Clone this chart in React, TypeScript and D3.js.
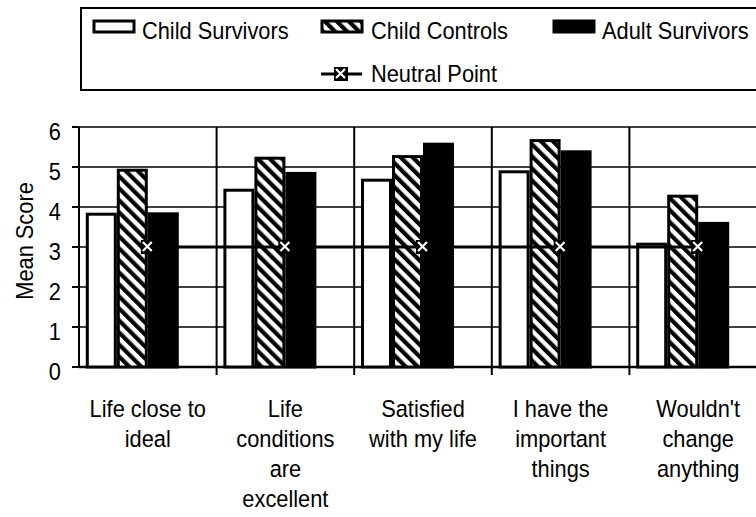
import React from "react";
import * as d3 from "d3";

const categories: string[][] = [
  ["Life close to", "ideal"],
  ["Life", "conditions", "are", "excellent"],
  ["Satisfied", "with my life"],
  ["I have the", "important", "things"],
  ["Wouldn't", "change", "anything"],
];
const childSurvivors = [3.82, 4.42, 4.67, 4.88, 3.07];
const childControls = [4.92, 5.22, 5.26, 5.66, 4.27];
const adultSurvivors = [3.83, 4.84, 5.57, 5.38, 3.59];
const neutralPoint = [3, 3, 3, 3, 3];
const yTicks = [0, 1, 2, 3, 4, 5, 6];
const seriesNames = ["Child Survivors", "Child Controls", "Adult Survivors", "Neutral Point"];

const W = 756;
const H = 517;
const left = 79;
const top = 127;
const bottom = 367;
const bandW = 137.6;
const right = left + bandW * categories.length;
const FONT = "'Liberation Sans', Arial, sans-serif";
const FS = 24.5;
const SX = 0.89;

function T(props: { x: number; y: number; anchor?: string; rotate?: number; children: React.ReactNode }) {
  const { x, y, anchor, rotate, children } = props;
  const tr = `translate(${x},${y})${rotate ? ` rotate(${rotate})` : ""} scale(${SX},1)`;
  return (
    <text transform={tr} textAnchor={anchor || "start"} fontSize={FS}>
      {children}
    </text>
  );
}

export default function App() {
  const idx = categories.map((_, i) => String(i));
  const x = d3.scaleBand<string>().domain(idx).range([left, right]).paddingInner(0).paddingOuter(0);
  const y = d3.scaleLinear().domain([0, 6]).range([bottom, top]);
  const barW = 31;
  const offsets = [-1.5, -0.5, 0.5];
  const series = [childSurvivors, childControls, adultSurvivors];
  const fills = ["#ffffff", "url(#hatch)", "#000000"];
  const cx = (i: number) => (x(String(i)) as number) + x.bandwidth() / 2;

  const line = d3
    .line<number>()
    .x((_, i) => cx(i))
    .y((d) => y(d));

  const marker = (mx: number, my: number, key: string) => (
    <g key={key} transform={`translate(${mx},${my})`}>
      <rect x={-7} y={-7} width={14} height={14} fill="#000" />
      <path d="M-5,-5L4,4M4,-5L-5,4" stroke="#fff" strokeWidth={2.2} />
    </g>
  );

  return (
    <svg width={W} height={H} style={{ position: "absolute", left: 0, top: 0, background: "#fff" }} fontFamily={FONT}>
      <defs>
        <pattern id="hatch" patternUnits="userSpaceOnUse" width={8.5} height={8.5} patternTransform="rotate(-45)">
          <rect width={8.5} height={8.5} fill="#fff" />
          <rect width={4.2} height={8.5} fill="#000" />
        </pattern>
      </defs>
      <rect width={W} height={H} fill="#fff" />
      {/* legend */}
      <rect x={81} y={8} width={W} height={82} fill="#fff" stroke="#000" strokeWidth={2} />
      <rect x={94} y={21} width={40} height={11} fill="#fff" stroke="#000" strokeWidth={3} />
      <T x={142} y={39}>{seriesNames[0]}</T>
      <rect x={322} y={21} width={40} height={11} fill="url(#hatch)" stroke="#000" strokeWidth={3} />
      <T x={371} y={39}>{seriesNames[1]}</T>
      <rect x={554} y={21} width={40} height={11} fill="#000" stroke="#000" strokeWidth={3} />
      <T x={602} y={39}>{seriesNames[2]}</T>
      <line x1={321} x2={362} y1={74} y2={74} stroke="#000" strokeWidth={3} />
      {marker(341, 74, "lm")}
      <T x={371} y={82}>{seriesNames[3]}</T>

      {/* gridlines */}
      {yTicks.map((t) => (
        <line key={"g" + t} x1={left} x2={right} y1={y(t)} y2={y(t)} stroke="#000" strokeWidth={1.3} />
      ))}
      {yTicks.map((t) => (
        <line key={"t" + t} x1={left - 7} x2={left} y1={y(t)} y2={y(t)} stroke="#000" strokeWidth={2} />
      ))}
      {yTicks.map((t) => (
        <T key={"l" + t} x={61} y={y(t) + 13} anchor="end">{t}</T>
      ))}
      {/* category separators */}
      {categories.map((_, i) =>
        i === 0 ? null : (
          <line key={"s" + i} x1={x(String(i)) as number} x2={x(String(i)) as number} y1={top} y2={bottom + 8} stroke="#000" strokeWidth={2} />
        )
      )}
      <line x1={left} x2={left} y1={top} y2={bottom} stroke="#000" strokeWidth={2} />
      <line x1={left} x2={right} y1={bottom} y2={bottom} stroke="#000" strokeWidth={2.5} />

      {/* bars */}
      {series.map((s, si) =>
        s.map((v, i) => (
          <rect
            key={`b${si}-${i}`}
            x={cx(i) + offsets[si] * barW - barW / 2 + 1.5}
            y={y(v)}
            width={barW - 3}
            height={bottom - y(v)}
            fill={fills[si]}
            stroke="#000"
            strokeWidth={3}
          />
        ))
      )}
      {/* neutral line */}
      <path d={line(neutralPoint) || ""} fill="none" stroke="#000" strokeWidth={3} />
      {neutralPoint.map((v, i) => marker(cx(i), y(v), "m" + i))}

      {/* axis title */}
      <T x={33} y={(top + bottom) / 2 - 6} rotate={-90} anchor="middle">Mean Score</T>

      {/* category labels */}
      {categories.map((lines, i) => (
        <T key={"c" + i} x={cx(i)} y={417} anchor="middle">
          {lines.map((ln, j) => (
            <tspan key={j} x={0} dy={j === 0 ? 0 : 30}>{ln}</tspan>
          ))}
        </T>
      ))}
    </svg>
  );
}
